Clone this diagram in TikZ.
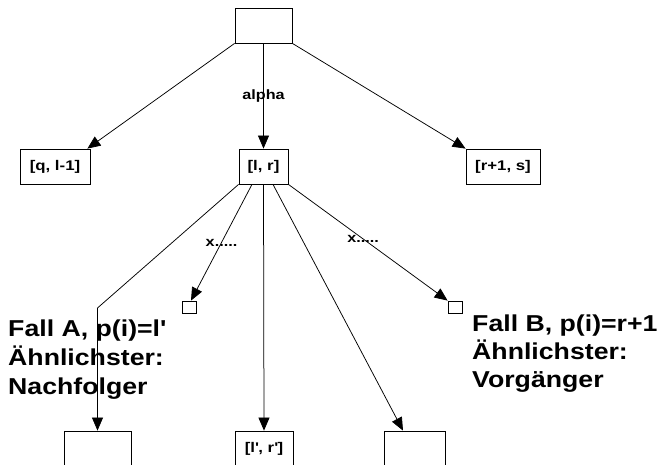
\documentclass[tikz,border=0pt]{standalone}
\usepackage{fontspec}
\setmainfont{Liberation Sans}
\newfontfamily\bigfont[FakeStretch=1.16]{Liberation Sans}
\newfontfamily\smallfont[FakeStretch=1.2]{Liberation Sans}
\usetikzlibrary{arrows.meta}
\tikzset{
  box/.style={draw, line width=0.8pt, inner sep=0pt, minimum height=35pt,
    font=\smallfont\bfseries\fontsize{14}{16}\selectfont},
  sq/.style={draw, line width=0.8pt, minimum width=14pt, minimum height=12pt, inner sep=0pt},
  conn/.style={line width=0.75pt, -{Triangle[length=13pt,width=11pt]}},
  lbl/.style={font=\smallfont\bfseries\fontsize{13.5}{15}\selectfont, inner sep=1pt},
  big/.style={font=\bigfont\bfseries\fontsize{23}{27}\selectfont, anchor=base west, inner sep=0pt}
}
\begin{document}
\begin{tikzpicture}[x=1pt, y=-1pt]
\useasboundingbox (0,0) rectangle (657,465);
% text blocks
\node[big] (fa1) at (8,337) {Fall A, p(i)=l\textquotesingle};
\node[big] (fa2) at (8,366) {Ähnlichster:};
\node[big] (fa3) at (8,395) {Nachfolger};
\node[big] (fb1) at (472,332) {Fall B, p(i)=r+1};
\node[big] (fb2) at (472,360) {Ähnlichster:};
\node[big] (fb3) at (472,388) {Vorgänger};
% boxes
\node[box, minimum width=57pt] (top) at (263.5,25.5) {};
\node[box, minimum width=49pt] (lr) at (263.5,166.5) {[l, r]};
\node[box, minimum width=70pt] (ql) at (55,166.5) {[q, l-1]};
\node[box, minimum width=74pt] (rs) at (503,166.5) {[r+1, s]};
\node[sq] (sqL) at (189,307) {};
\node[sq] (sqR) at (455,307) {};
\node[box, minimum width=67pt] (bL) at (97.5,448.5) {};
\node[box, minimum width=58pt] (bM) at (264,448.5) {[l\textquotesingle, r\textquotesingle]};
\node[box, minimum width=61pt] (bR) at (414.5,448.5) {};
% connectors
\draw[conn] (top.south west) -- ([xshift=-3pt]ql.north east);
\draw[conn] (top.south) -- node[lbl] {alpha} (lr.north);
\draw[conn] (top.south east) -- (rs.north west);
\coordinate (bendA) at (97.5,308);
\draw[conn] (lr.south west) -- (bendA) -- (bL.north);
\draw[conn] ([xshift=-11.5pt]lr.south) -- node[lbl, pos=0.5] {x.....} ([xshift=2pt]sqL.north);
\draw[conn] (lr.south) -- (bM.north);
\draw[conn] ([xshift=9.5pt]lr.south) -- ([xshift=-11.5pt]bR.north);
\draw[conn] (lr.south east) -- node[lbl, pos=0.47] {x.....} (sqR.north west);
\end{tikzpicture}
\end{document}
